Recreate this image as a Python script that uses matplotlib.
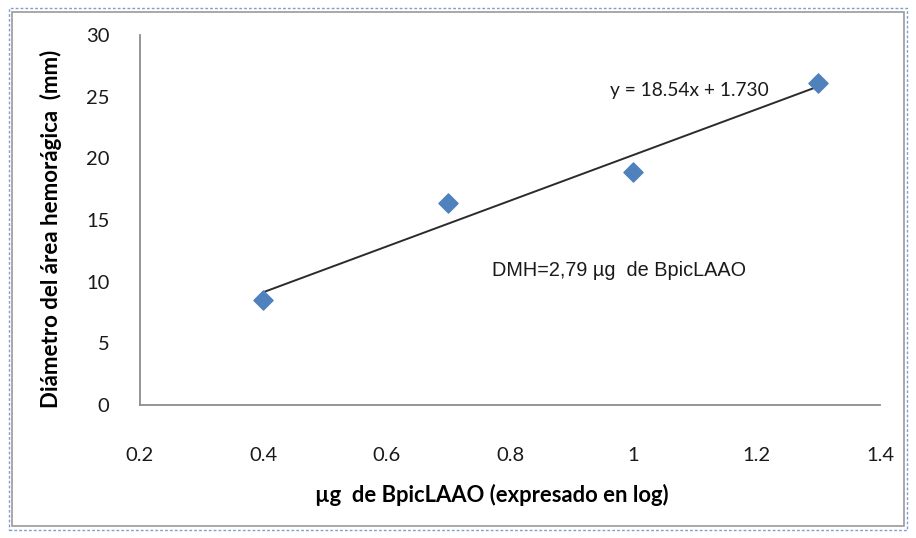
import matplotlib
matplotlib.use("Agg")
import matplotlib.pyplot as plt
import numpy as np
from matplotlib.patches import Rectangle

# datos
log_ug = [0.4, 0.7, 1.0, 1.3]
diametro = [8.5, 16.4, 18.9, 26.1]
pendiente = 18.54
intercepto = 1.730
xticks = [0.2, 0.4, 0.6, 0.8, 1.0, 1.2, 1.4]
xtick_labels = ["0.2", "0.4", "0.6", "0.8", "1", "1.2", "1.4"]
yticks = [0, 5, 10, 15, 20, 25, 30]

fig = plt.figure(figsize=(9.16, 5.38), dpi=100)

# marco del grafico (borde gris + seleccion punteada azul)
fig.patches.append(Rectangle((12 / 916, 12 / 538), 892 / 916, 514 / 538, transform=fig.transFigure,
                             fill=False, edgecolor="#9a9a9a", linewidth=1.2))
fig.patches.append(Rectangle((9 / 916, 8 / 538), 898 / 916, 522 / 538, transform=fig.transFigure,
                             fill=False, edgecolor="#7f9fd4", linewidth=1.0, linestyle=(0, (2, 1.5))))

ax = fig.add_axes([140 / 916, 1 - 405 / 538, 740 / 916, 370 / 538])

x_lin = np.array([min(log_ug), max(log_ug)])
ax.plot(x_lin, pendiente * x_lin + intercepto, color="#2b2b2b", linewidth=1.4, zorder=2)
ax.scatter(log_ug, diametro, marker="D", s=95, color="#4f81bd", edgecolor="#4f81bd", zorder=3)

ax.set_xlim(0.2, 1.4)
ax.set_ylim(0, 30)
ax.set_xticks(xticks)
ax.set_xticklabels(xtick_labels)
ax.set_yticks(yticks)

for lado in ["top", "right"]:
    ax.spines[lado].set_visible(False)
for lado in ["left", "bottom"]:
    ax.spines[lado].set_color("#8c8c8c")
    ax.spines[lado].set_linewidth(1.3)

ax.tick_params(axis="both", length=0, labelsize=14.5, labelcolor="#1a1a1a")
ax.tick_params(axis="x", pad=30)
ax.tick_params(axis="y", pad=22)
for lbl in ax.get_xticklabels() + ax.get_yticklabels():
    lbl.set_fontfamily("Lato")

ax.set_xlabel("µg  de BpicLAAO (expresado en log)", fontsize=15.8, fontweight="bold", family="Lato")
ax.xaxis.set_label_coords(0.476, -0.214)
ax.set_ylabel("Diámetro del área hemorágica  (mm)", fontsize=16, fontweight="bold", family="Lato")
ax.yaxis.set_label_coords(-0.106, 0.476)

ax.text(0.962, 25.5, "y = 18.54x + 1.730", fontsize=13.8, family="Lato", color="#1a1a1a",
        ha="left", va="center")
ax.text(0.771, 10.87, "DMH=2,79 µg  de BpicLAAO", fontsize=14.3, family="Liberation Sans",
        color="#1a1a1a", ha="left", va="center")

fig.savefig("out.png", dpi=100)
